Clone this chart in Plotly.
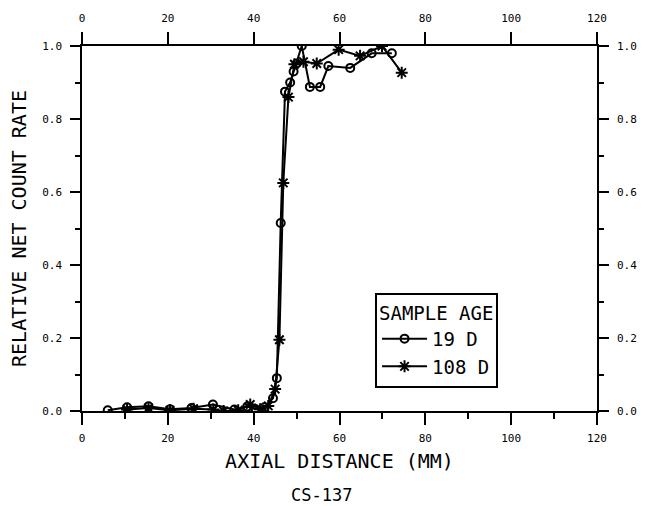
import plotly.graph_objects as go

# 19 D series (circles)
x_19d = [6.0, 10.5, 15.5, 20.5, 25.5, 30.5, 35.5, 38.5, 40.5, 42.5, 44.5, 45.4, 46.3,
         47.3, 48.5, 49.3, 50.0, 51.2, 53.1, 55.5, 57.4, 62.5, 67.5, 72.2]
y_19d = [0.002, 0.010, 0.013, 0.005, 0.008, 0.018, 0.004, 0.012, 0.005, 0.010, 0.035, 0.090, 0.515,
         0.875, 0.900, 0.930, 0.952, 1.000, 0.888, 0.888, 0.945, 0.940, 0.980, 0.980]

# 108 D series (asterisks)
x_108d = [10.5, 15.5, 20.5, 26.0, 30.6, 33.0, 36.4, 39.2, 41.5, 43.4, 45.0, 46.0, 46.9,
          48.1, 49.5, 51.6, 54.7, 59.8, 64.8, 69.9, 74.5]
y_108d = [0.004, 0.008, 0.002, 0.006, 0.004, 0.000, 0.002, 0.018, 0.005, 0.014, 0.060, 0.195, 0.625,
          0.860, 0.950, 0.957, 0.952, 0.990, 0.973, 1.000, 0.927]

x_ticks = [0, 20, 40, 60, 80, 100, 120]
y_ticks = [0.0, 0.2, 0.4, 0.6, 0.8, 1.0]
y_ticklabels = ["0.0", "0.2", "0.4", "0.6", "0.8", "1.0"]

FONT = "DejaVu Sans Mono, Liberation Mono, monospace"

fig = go.Figure()
fig.add_trace(go.Scatter(
    x=x_19d, y=y_19d, mode="lines+markers", name="19 D",
    line=dict(color="black", width=2),
    marker=dict(symbol="circle-open", size=8, color="black", line=dict(width=2)),
))
fig.add_trace(go.Scatter(
    x=x_108d, y=y_108d, mode="lines+markers", name="108 D",
    line=dict(color="black", width=2),
    marker=dict(symbol="asterisk-open", size=10, color="black", line=dict(width=2, color="black")),
))
# invisible trace to activate the top/right axes
fig.add_trace(go.Scatter(
    x=[x_ticks[0], x_ticks[-1]], y=[y_ticks[0], y_ticks[-1]], xaxis="x2", yaxis="y2",
    mode="markers", marker=dict(opacity=0), showlegend=False, hoverinfo="skip",
))

common_x = dict(range=[0, 120], tickvals=x_ticks, ticktext=[str(v) for v in x_ticks],
                showgrid=False, zeroline=False, showline=True, linecolor="black", linewidth=1.5,
                ticks="outside", ticklen=12, tickwidth=1.5, tickcolor="black",
                tickfont=dict(family=FONT, size=11, color="black"))
common_y = dict(range=[0, 1.0], tickvals=y_ticks, ticktext=y_ticklabels,
                showgrid=False, zeroline=False, showline=True, linecolor="black", linewidth=1.5,
                ticks="outside", ticklen=10, tickwidth=1.5, tickcolor="black",
                tickfont=dict(family=FONT, size=11, color="black"))

fig.update_layout(
    width=648, height=506,
    margin=dict(l=82, r=51, t=46, b=95, autoexpand=False),
    paper_bgcolor="white", plot_bgcolor="white",
    font=dict(family=FONT, color="black"),
    xaxis=dict(**common_x, ticklabelstandoff=4,
               minor=dict(dtick=10, ticklen=6, tickwidth=1.5, tickcolor="black", ticks="outside"),
               title=dict(text="AXIAL DISTANCE (MM)", font=dict(family=FONT, size=20), standoff=10)),
    xaxis2=dict(**common_x, overlaying="x", side="top", anchor="y", ticklabelstandoff=6),
    yaxis=dict(**common_y, ticklabelstandoff=6,
               minor=dict(dtick=0.1, ticklen=5, tickwidth=1.5, tickcolor="black", ticks="outside"),
               title=dict(text="RELATIVE NET COUNT RATE", font=dict(family=FONT, size=20), standoff=10)),
    yaxis2=dict(**common_y, overlaying="y", side="right", anchor="x", ticklabelstandoff=6,
                minor=dict(dtick=0.1, ticklen=5, tickwidth=1.5, tickcolor="black", ticks="outside")),
    legend=dict(
        x=0.569, y=0.323, xanchor="left", yanchor="top",
        bgcolor="white", bordercolor="black", borderwidth=2,
        font=dict(family=FONT, size=19, color="black"),
        title=dict(text="SAMPLE AGE", font=dict(family=FONT, size=19, color="black")),
        itemwidth=45, tracegroupgap=0,
    ),
    showlegend=True,
    annotations=[dict(text="CS-137", xref="paper", yref="paper", x=0.466, y=-0.23,
                      xanchor="center", yanchor="middle", showarrow=False,
                      font=dict(family=FONT, size=17, color="black"))],
)

fig.write_html("out.html", config={"displayModeBar": False},
               post_script="document.body.style.margin='0';document.body.style.padding='0';")
